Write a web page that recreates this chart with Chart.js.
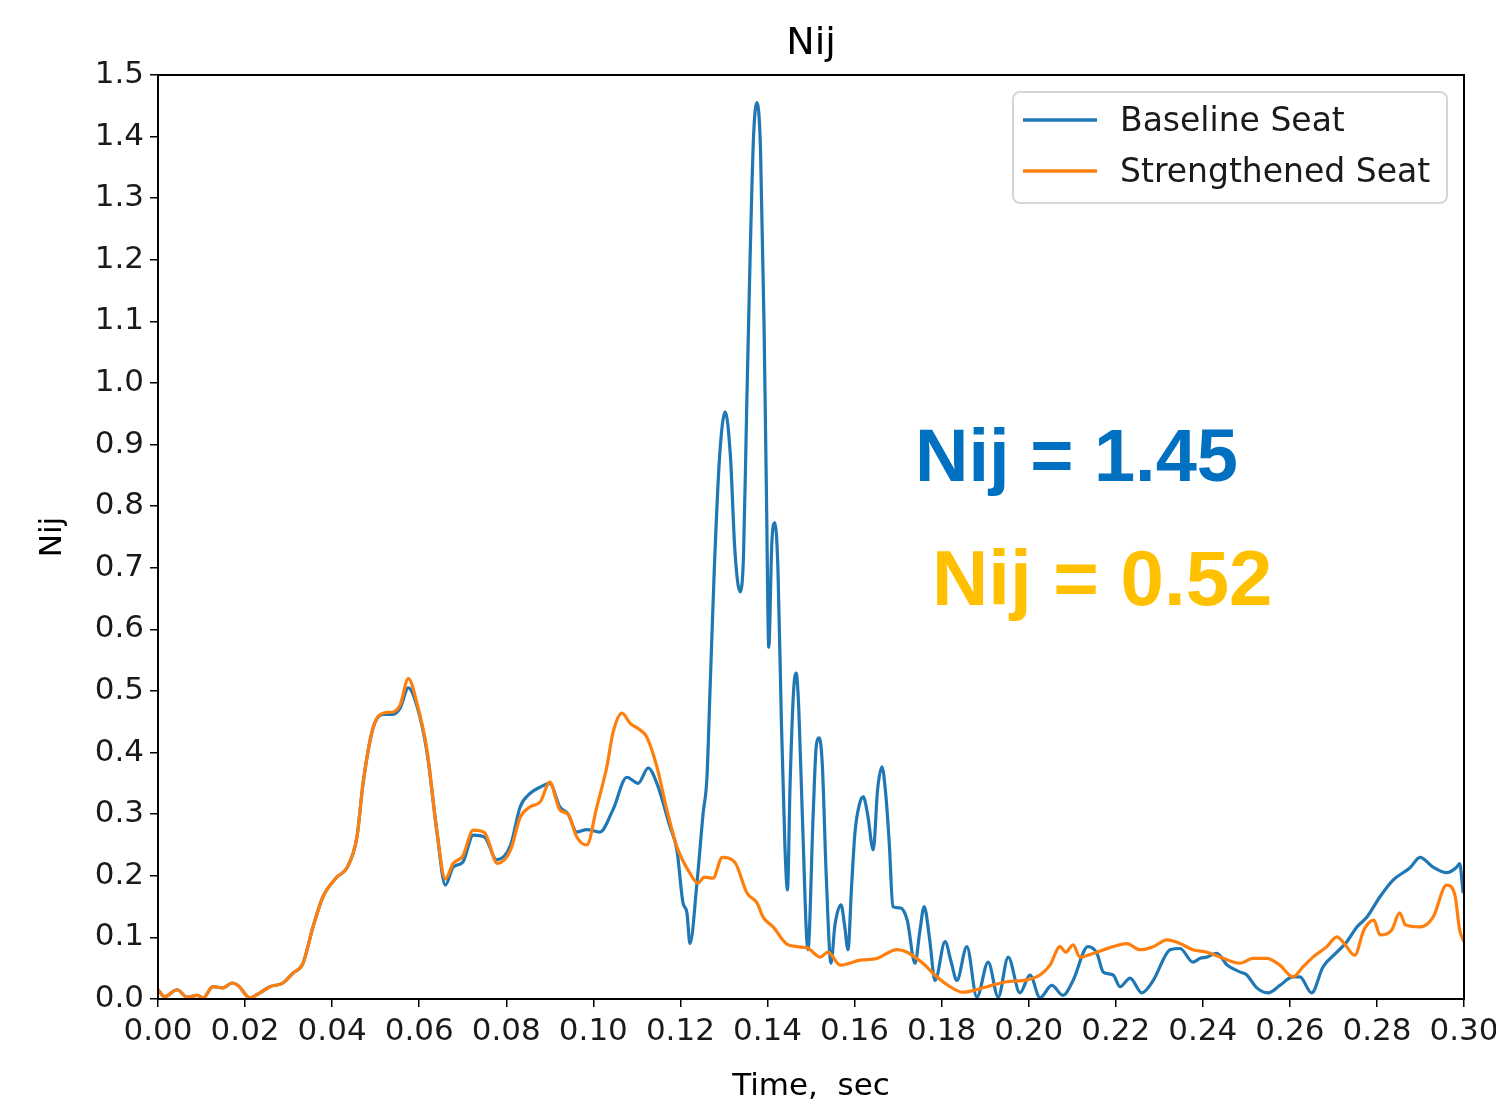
<!DOCTYPE html>
<html>
<head>
<meta charset="utf-8">
<title>Nij</title>
<script src="https://cdn.jsdelivr.net/npm/chart.js@4.4.1/dist/chart.umd.min.js"></script>
<style>
  body { margin: 0; background: #fff; }
  #wrap { width: 1496px; height: 1099px; }
</style>
</head>
<body>
<div id="wrap"><canvas id="nijChart" width="1496" height="1099"></canvas></div>
<script>
// time histories of the neck injury criterion (sec, Nij)
const baselineTime = [
  0.000, 0.0015, 0.0044, 0.0067, 0.009, 0.0104, 0.0126, 0.0149, 0.017, 0.0184,
  0.0211, 0.0234, 0.0257, 0.0287, 0.031, 0.0333, 0.0356, 0.0379, 0.0411, 0.0434,
  0.0457, 0.0471, 0.0494, 0.0517, 0.054, 0.0556, 0.0575, 0.0595, 0.0618, 0.0641,
  0.066, 0.0678, 0.070, 0.0724, 0.075, 0.0778, 0.081, 0.0832, 0.0855, 0.0878,
  0.090, 0.0923, 0.0942, 0.0962, 0.0985, 0.1015, 0.1045, 0.1077, 0.1103, 0.1126,
  0.1146, 0.1176, 0.1192, 0.1206, 0.1215, 0.1222, 0.1238, 0.1252, 0.1261, 0.1268,
  0.1278, 0.1290, 0.1303, 0.1315, 0.1325, 0.1337, 0.1345, 0.1352, 0.1360, 0.1368,
  0.1376, 0.1384, 0.1392, 0.1398, 0.1403, 0.1410, 0.1417, 0.1424, 0.1432, 0.1440,
  0.1446, 0.1452, 0.1460, 0.1466, 0.1472, 0.1480, 0.1493, 0.1505, 0.1512, 0.1519,
  0.1526, 0.1535, 0.1546, 0.1555, 0.1569, 0.1577, 0.1585, 0.1593, 0.1601, 0.1612,
  0.1620, 0.1630, 0.1643, 0.1653, 0.1663, 0.1672, 0.1680, 0.1688, 0.1705, 0.1721,
  0.1739, 0.1750, 0.1760, 0.1772, 0.1785, 0.1808, 0.1822, 0.1835, 0.1858, 0.1881,
  0.1907, 0.1930, 0.1953, 0.1980, 0.2003, 0.2026, 0.2053, 0.2079, 0.2102, 0.2136,
  0.2157, 0.2171, 0.2194, 0.2210, 0.2233, 0.2260, 0.2286, 0.2325, 0.2348, 0.2377,
  0.2394, 0.2409, 0.2432, 0.2456, 0.2485, 0.2501, 0.2524, 0.2550, 0.2577, 0.2607,
  0.2623, 0.2650, 0.2676, 0.2708, 0.2731, 0.2754, 0.2777, 0.2807, 0.2837, 0.2876,
  0.2899, 0.2929, 0.2960, 0.2983, 0.2990, 0.2998
];
const baselineNij = [
  0.015, 0.004, 0.015, 0.003, 0.006, 0.002, 0.020, 0.018, 0.026, 0.022,
  0.002, 0.010, 0.020, 0.026, 0.042, 0.058, 0.117, 0.166, 0.198, 0.213,
  0.263, 0.350, 0.440, 0.462, 0.462, 0.472, 0.505, 0.475, 0.400, 0.270,
  0.185, 0.214, 0.222, 0.266, 0.263, 0.226, 0.250, 0.312, 0.334, 0.344,
  0.350, 0.312, 0.300, 0.271, 0.275, 0.271, 0.307, 0.360, 0.350, 0.375,
  0.350, 0.280, 0.242, 0.156, 0.140, 0.090, 0.188, 0.300, 0.360, 0.500,
  0.700, 0.880, 0.953, 0.880, 0.730, 0.661, 0.720, 0.950, 1.200, 1.400,
  1.455, 1.380, 1.100, 0.800, 0.571, 0.740, 0.773, 0.700, 0.450, 0.250,
  0.177, 0.350, 0.500, 0.529, 0.470, 0.300, 0.080, 0.300, 0.410, 0.424,
  0.380, 0.200, 0.058, 0.120, 0.153, 0.120, 0.080, 0.180, 0.270, 0.318,
  0.328, 0.300, 0.242, 0.340, 0.377, 0.330, 0.250, 0.150, 0.148, 0.128,
  0.058, 0.110, 0.150, 0.100, 0.030, 0.093, 0.060, 0.030, 0.085, 0.003,
  0.060, 0.003, 0.068, 0.010, 0.039, 0.002, 0.022, 0.006, 0.030, 0.085,
  0.074, 0.044, 0.039, 0.020, 0.034, 0.010, 0.030, 0.080, 0.082, 0.060,
  0.066, 0.068, 0.074, 0.055, 0.044, 0.039, 0.018, 0.010, 0.022, 0.036,
  0.036, 0.010, 0.052, 0.076, 0.093, 0.117, 0.133, 0.166, 0.193, 0.213,
  0.230, 0.214, 0.205, 0.214, 0.220, 0.172
];
const strengthenedTime = [
  0.000, 0.0015, 0.0044, 0.0067, 0.009, 0.0104, 0.0126, 0.0149, 0.017, 0.0184,
  0.0211, 0.0234, 0.0257, 0.0287, 0.031, 0.0333, 0.0356, 0.0379, 0.0411, 0.0434,
  0.0457, 0.0471, 0.0494, 0.0517, 0.054, 0.0556, 0.0575, 0.0595, 0.0618, 0.0641,
  0.066, 0.0678, 0.070, 0.0724, 0.075, 0.078, 0.081, 0.0832, 0.0855, 0.0878,
  0.090, 0.0923, 0.0942, 0.0962, 0.0985, 0.1008, 0.1031, 0.1045, 0.1066, 0.1084,
  0.1107, 0.1123, 0.1146, 0.1169, 0.1192, 0.1222, 0.1240, 0.1255, 0.1275, 0.1296,
  0.1325, 0.1353, 0.1376, 0.1390, 0.1413, 0.1447, 0.1491, 0.1521, 0.1539, 0.1567,
  0.1613, 0.1652, 0.1697, 0.1721, 0.1757, 0.1789, 0.1815, 0.1849, 0.1880, 0.1904,
  0.1950, 0.1996, 0.2026, 0.2049, 0.2072, 0.2085, 0.2102, 0.2118, 0.2148, 0.2194,
  0.2226, 0.2255, 0.2286, 0.2318, 0.2348, 0.2377, 0.2409, 0.2447, 0.2485, 0.2515,
  0.2547, 0.2577, 0.2607, 0.2630, 0.2653, 0.2685, 0.2708, 0.2725, 0.2749, 0.2770,
  0.2793, 0.2807, 0.2834, 0.2852, 0.2866, 0.2899, 0.2929, 0.2960, 0.2979, 0.2990,
  0.3000
];
const strengthenedNij = [
  0.015, 0.004, 0.015, 0.003, 0.006, 0.002, 0.020, 0.018, 0.026, 0.022,
  0.002, 0.010, 0.020, 0.026, 0.042, 0.058, 0.117, 0.166, 0.198, 0.213,
  0.263, 0.350, 0.440, 0.464, 0.466, 0.477, 0.520, 0.480, 0.404, 0.270,
  0.195, 0.220, 0.232, 0.274, 0.270, 0.220, 0.242, 0.295, 0.312, 0.320,
  0.352, 0.307, 0.300, 0.263, 0.250, 0.312, 0.377, 0.432, 0.464, 0.448,
  0.437, 0.425, 0.377, 0.307, 0.247, 0.204, 0.188, 0.198, 0.196, 0.230,
  0.222, 0.172, 0.156, 0.133, 0.117, 0.088, 0.083, 0.068, 0.076, 0.055,
  0.063, 0.066, 0.080, 0.076, 0.058, 0.036, 0.022, 0.011, 0.015, 0.020,
  0.028, 0.031, 0.039, 0.055, 0.085, 0.076, 0.088, 0.068, 0.074, 0.085,
  0.090, 0.080, 0.085, 0.096, 0.090, 0.080, 0.076, 0.066, 0.058, 0.066,
  0.066, 0.055, 0.036, 0.052, 0.068, 0.085, 0.101, 0.090, 0.071, 0.112,
  0.128, 0.104, 0.112, 0.140, 0.120, 0.117, 0.133, 0.185, 0.169, 0.112,
  0.093
];
const peakLabels = ['Nij = 1.45', 'Nij = 0.52'];

const toPoints = (xs, ys) => xs.map((x, i) => ({ x: x, y: ys[i] }));
const FONT = "'DejaVu Sans', sans-serif";

// frame, title, axis titles, legend box and peak notes
const decorations = {
  id: 'decorations',
  afterDraw(chart) {
    const { ctx, chartArea: a, scales } = chart;
    ctx.save();
    ctx.strokeStyle = '#000';
    ctx.lineWidth = 2;
    ctx.strokeRect(a.left, a.top, a.right - a.left, a.bottom - a.top);

    ctx.fillStyle = '#000';
    ctx.textAlign = 'center';
    ctx.textBaseline = 'alphabetic';
    ctx.font = '38px ' + FONT;
    ctx.fillText('Nij', (a.left + a.right) / 2, 54);
    ctx.font = '31px ' + FONT;
    ctx.fillText('Time,  sec', (a.left + a.right) / 2, 1095);
    ctx.save();
    ctx.translate(61, (a.top + a.bottom) / 2);
    ctx.rotate(-Math.PI / 2);
    ctx.fillText('Nij', 0, 0);
    ctx.restore();

    // legend
    const lx = 1013, ly = 92, lw = 434, lh = 111;
    ctx.beginPath();
    ctx.roundRect(lx, ly, lw, lh, 7);
    ctx.fillStyle = 'rgba(255,255,255,0.8)';
    ctx.fill();
    ctx.strokeStyle = '#d6d6d6';
    ctx.lineWidth = 2;
    ctx.stroke();
    const rows = [['Baseline Seat', '#1f77b4', 120], ['Strengthened Seat', '#ff7f0e', 171]];
    ctx.font = '33px ' + FONT;
    ctx.textAlign = 'left';
    ctx.textBaseline = 'middle';
    rows.forEach(([txt, col, y]) => {
      ctx.strokeStyle = col;
      ctx.lineWidth = 3.5;
      ctx.beginPath();
      ctx.moveTo(1023, y);
      ctx.lineTo(1097, y);
      ctx.stroke();
      ctx.fillStyle = '#1a1a1a';
      ctx.fillText(txt, 1120, y + 2);
    });

    // peak values
    const xs = scales.x, ys = scales.y;
    ctx.textBaseline = 'alphabetic';
    ctx.font = "bold 74px 'Liberation Sans', Arial, sans-serif";
    ctx.fillStyle = '#0070c0';
    ctx.fillText(peakLabels[0], xs.getPixelForValue(0.1739), ys.getPixelForValue(0.841));
    ctx.font = "bold 78px 'Liberation Sans', Arial, sans-serif";
    ctx.fillStyle = '#ffc000';
    ctx.fillText(peakLabels[1], xs.getPixelForValue(0.1778), ys.getPixelForValue(0.640));
    ctx.restore();
  }
};

const ctx = document.getElementById('nijChart').getContext('2d');
const nijChart = new Chart(ctx, {
  type: 'line',
  data: {
    datasets: [
      {
        label: 'Baseline Seat',
        data: toPoints(baselineTime, baselineNij),
        borderColor: '#1f77b4',
        borderWidth: 3.2,
        pointRadius: 0,
        cubicInterpolationMode: 'monotone',
        order: 2
      },
      {
        label: 'Strengthened Seat',
        data: toPoints(strengthenedTime, strengthenedNij),
        borderColor: '#ff7f0e',
        borderWidth: 3.2,
        pointRadius: 0,
        cubicInterpolationMode: 'monotone',
        order: 1
      }
    ]
  },
  options: {
    responsive: false,
    animation: false,
    layout: { padding: { top: 75, right: 32, left: 0, bottom: 0 } },
    plugins: { legend: { display: false }, tooltip: { enabled: false }, title: { display: false } },
    scales: {
      x: {
        type: 'linear',
        min: 0,
        max: 0.3,
        grid: { drawOnChartArea: false, drawTicks: true, tickLength: 8, color: '#000', lineWidth: 1.5 },
        border: { display: true, color: '#000', width: 2 },
        ticks: {
          stepSize: 0.02,
          maxRotation: 0,
          autoSkip: false,
          padding: 6,
          color: '#1a1a1a',
          font: { family: FONT, size: 31 },
          callback: (v) => v.toFixed(2)
        },
        afterFit: (s) => { s.height = 100; s.paddingLeft = 0; s.paddingRight = 0; }
      },
      y: {
        min: 0,
        max: 1.5,
        grid: { drawOnChartArea: false, drawTicks: true, tickLength: 8, color: '#000', lineWidth: 1.5 },
        border: { display: true, color: '#000', width: 2 },
        ticks: {
          stepSize: 0.1,
          padding: 6,
          color: '#1a1a1a',
          font: { family: FONT, size: 31 },
          callback: (v) => v.toFixed(1)
        },
        afterFit: (s) => { s.width = 158; s.paddingTop = 0; s.paddingBottom = 0; }
      }
    }
  },
  plugins: [decorations]
});
</script>
</body>
</html>
